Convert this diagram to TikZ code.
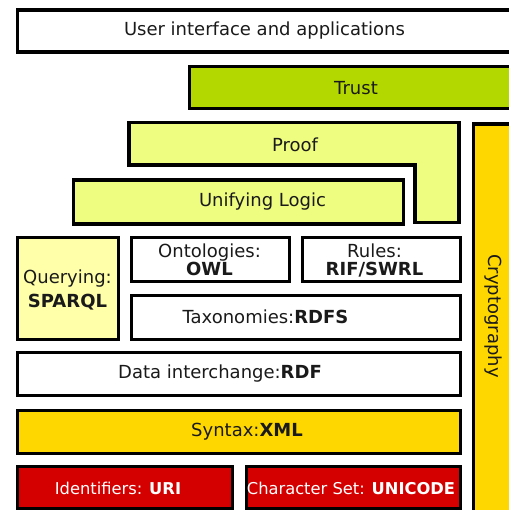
\documentclass[tikz,border=0pt]{standalone}
\usepackage{fontspec}
\setmainfont{DejaVu Sans}
\definecolor{trustgreen}{HTML}{B2D800}
\definecolor{logicyellow}{HTML}{EEFC80}
\definecolor{queryyellow}{HTML}{FFFFAA}
\definecolor{gold}{HTML}{FFD700}
\definecolor{basered}{HTML}{D40000}
\definecolor{inktext}{HTML}{1A1A1A}
\tikzset{
  layer/.style={draw=black, line width=3.2pt, anchor=north west, inner sep=0pt},
  whitelayer/.style={layer, fill=white},
  redlayer/.style={layer, fill=basered},
  caption/.style={align=center, inner sep=0pt, text=inktext, font=\fontsize{18}{18}\selectfont},
  redcaption/.style={caption, text=white, font=\fontsize{16.3}{18}\selectfont}
}
\begin{document}
\begin{tikzpicture}[x=1pt,y=-1pt]
  \useasboundingbox (0,0) rectangle (508,510);
  % top of the stack
  \node[whitelayer, minimum width=510pt, minimum height=42pt] (ui) at (15.5,8.5) {};
  \node[caption] (uitext) at (264.5,31) {User interface and applications};
  \node[layer, fill=trustgreen, minimum width=340pt, minimum height=42pt] (trust) at (187.5,65) {};
  \node[caption] (trusttext) at (356,88) {Trust};
  % proof wraps round unifying logic
  \draw[line width=3.2pt, fill=logicyellow, line join=miter]
    (129,122.5) -- (459,122.5) -- (459,222.5) -- (415,222.5)
    -- (415,165) -- (129,165) -- cycle;
  \node[caption] (proof) at (295,145) {Proof};
  \node[layer, fill=logicyellow, minimum width=329.5pt, minimum height=44pt] (logic) at (72,178.5) {};
  \node[caption] (logictext) at (262.5,202) {Unifying Logic};
  \node[layer, fill=gold, minimum width=50pt, minimum height=400pt] (crypto) at (471.5,122.5) {};
  \node[caption, rotate=-90] (cryptotext) at (493,316) {Cryptography};
  % query, ontologies, rules, taxonomies
  \node[layer, fill=queryyellow, minimum width=101pt, minimum height=102pt] (query) at (15.5,235.5) {};
  \node[caption] (querytext) at (67.5,290) {Querying:\\[6pt]\textbf{SPARQL}};
  \node[whitelayer, minimum width=158pt, minimum height=44.5pt] (owl) at (130,235.5) {};
  \node[caption] (owltext) at (209.5,260) {Ontologies:\\\textbf{OWL}};
  \node[whitelayer, minimum width=158pt, minimum height=44.5pt] (rules) at (301,235.5) {};
  \node[caption] (rulestext) at (374.5,260) {Rules:\\\textbf{RIF/SWRL}};
  \node[whitelayer, minimum width=329pt, minimum height=44pt] (rdfs) at (130,293.5) {};
  \node[caption] (rdfstext) at (265.5,317) {Taxonomies:\textbf{RDFS}};
  % data and syntax
  \node[whitelayer, minimum width=443.5pt, minimum height=43pt] (rdf) at (15.5,350.5) {};
  \node[caption] (rdftext) at (220,373.5) {Data interchange:\textbf{RDF}};
  \node[layer, fill=gold, minimum width=443.5pt, minimum height=43pt] (xml) at (15.5,408.5) {};
  \node[caption] (xmltext) at (247,432) {Syntax:\textbf{XML}};
  % bottom row
  \node[redlayer, minimum width=215.5pt, minimum height=42pt] (uri) at (15.5,465) {};
  \node[redcaption] (uritext) at (118,488) {Identifiers: \textbf{URI}};
  \node[redlayer, minimum width=214.5pt, minimum height=42pt] (unicode) at (244.5,465) {};
  \node[redcaption] (unicodetext) at (351,488) {Character Set: \textbf{UNICODE}};
\end{tikzpicture}
\end{document}
